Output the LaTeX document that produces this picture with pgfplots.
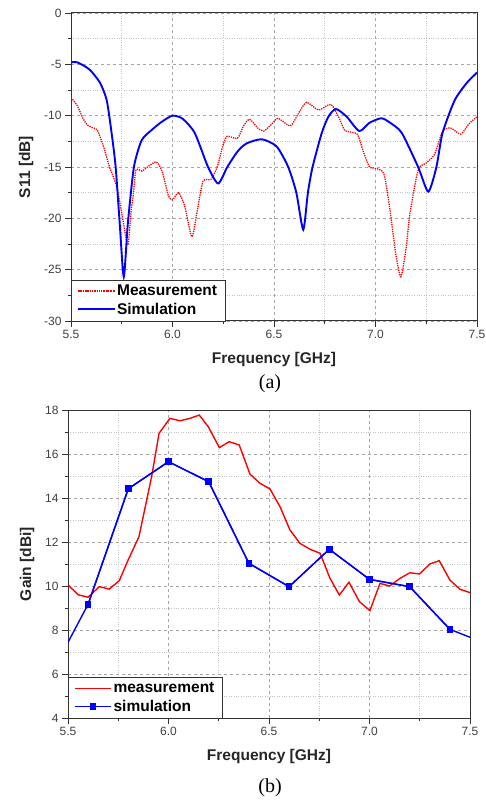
\documentclass[border=0pt]{standalone}
\usepackage{fontspec}
\setmainfont{Liberation Sans}
\newfontfamily\capfont{Liberation Serif}
\usepackage{pgfplots}
\pgfplotsset{compat=1.18}

\pgfplotsset{
  freqax/.style={
    scale only axis,
    xmin=5.5, xmax=7.5, xtick={5.5,6.0,...,7.5},
    minor x tick num=1, minor y tick num=1,
    grid=both,
    major grid style={gray!70, dashed, line width=0.6pt},
    minor grid style={gray!45, dotted, line width=0.7pt},
    axis line style={black!80, line width=1pt},
    tick style={black!80, line width=0.8pt},
    xtick pos=bottom, ytick pos=left, tick align=outside,
    major tick length=6pt, minor tick length=3pt,
    /pgf/number format/assume math mode=true,
    ticklabel style={font=\fontsize{12}{14}\selectfont, text=black!75},
    x tick label style={/pgf/number format/.cd, fixed, fixed zerofill, precision=1, /tikz/.cd},
    xlabel={Frequency [GHz]},
    label style={font=\bfseries\fontsize{15.5}{17}\selectfont, text=black!85},
    xlabel style={yshift=-6pt},
    ylabel style={yshift=4pt},
    legend style={at={(0,0)}, anchor=south west, draw=black!80, fill=white,
      font=\bfseries\fontsize{15.5}{17}\selectfont, inner xsep=6pt, inner ysep=3pt,
      row sep=2pt},
    legend cell align=left,
    legend image code/.code={\draw[mark repeat=2, mark phase=2, #1]
      plot coordinates {(0pt,0pt) (18pt,0pt) (36pt,0pt)};},
  }
}

\begin{document}
\begin{tikzpicture}
\path[use as bounding box] (0,0) rectangle (485pt,-802pt);

% (a) return loss
\begin{axis}[freqax, at={(71pt,-13pt)}, anchor=north west,
  width=406pt, height=308pt,
  ymin=-30, ymax=0, ytick={-30,-25,...,0},
  ylabel={S11 [dB]}]
\addplot[red, densely dotted, line width=1.3pt, smooth, tension=0.4] coordinates {
(5.50,-8.25) (5.53,-9.0) (5.56,-10.3) (5.58,-10.9) (5.61,-11.2) (5.63,-11.4)
(5.66,-13.0) (5.69,-15.0) (5.725,-16.9) (5.75,-19.5) (5.78,-22.6) (5.795,-19.5)
(5.808,-17.5) (5.82,-15.3) (5.85,-15.4) (5.87,-15.1) (5.92,-14.5) (5.95,-15.5)
(5.98,-17.8) (6.00,-18.2) (6.03,-17.5) (6.06,-18.8) (6.095,-21.8) (6.12,-19.5)
(6.15,-16.4) (6.19,-16.2) (6.22,-15.0) (6.25,-12.8) (6.27,-12.0) (6.32,-12.2)
(6.35,-11.0) (6.38,-10.35) (6.42,-11.2) (6.45,-11.5) (6.49,-10.8) (6.52,-10.25)
(6.58,-11.0) (6.62,-9.8) (6.66,-8.7) (6.72,-9.45) (6.78,-8.9) (6.82,-10.2)
(6.85,-11.45) (6.91,-11.8) (6.94,-13.5) (6.97,-15.0) (6.99,-15.1) (7.04,-15.6)
(7.07,-19.0) (7.10,-23.5) (7.125,-25.7) (7.15,-23.0) (7.17,-19.5) (7.21,-15.3)
(7.25,-14.6) (7.29,-13.8) (7.33,-11.55) (7.37,-11.2) (7.42,-11.8) (7.46,-10.8)
(7.50,-10.1)
};
\addlegendentry{Measurement}
\addplot[blue, line width=1.9pt, smooth, tension=0.4] coordinates {
(5.50,-4.8) (5.53,-4.8) (5.56,-5.1) (5.594,-5.55) (5.643,-6.8) (5.676,-8.5)
(5.70,-11.7) (5.72,-15) (5.74,-20.5) (5.76,-25.7) (5.78,-20.5) (5.81,-15)
(5.848,-12.4) (5.897,-11.4) (5.947,-10.6) (6.00,-10.0) (6.05,-10.3) (6.11,-11.7)
(6.175,-15) (6.225,-16.6) (6.27,-15) (6.32,-13.5) (6.365,-12.7) (6.44,-12.3)
(6.513,-13.0) (6.57,-15) (6.61,-17.5) (6.644,-21.1) (6.667,-17.5) (6.69,-15)
(6.735,-11.7) (6.768,-10.1) (6.805,-9.35) (6.858,-10.1) (6.92,-11.5) (6.97,-10.7)
(7.03,-10.25) (7.08,-10.8) (7.13,-11.7) (7.21,-15) (7.26,-17.4) (7.30,-15)
(7.33,-11.7) (7.39,-8.5) (7.45,-6.8) (7.50,-5.8)
};
\addlegendentry{Simulation}
\end{axis}
\node[font=\capfont\fontsize{20}{22}\selectfont] at (270pt,-384pt) {(a)};

% (b) gain
\begin{axis}[freqax, at={(68pt,-410pt)}, anchor=north west,
  width=402pt, height=308pt,
  ymin=4, ymax=18, ytick={4,6,...,18},
  ylabel={Gain [dBi]}]
\addplot[red, line width=1.4pt] coordinates {
(5.50,10.05) (5.551,9.6) (5.60,9.49) (5.656,9.97) (5.705,9.86) (5.755,10.24)
(5.80,11.2) (5.853,12.24) (5.916,14.97) (5.953,16.94) (6.007,17.62) (6.057,17.51)
(6.107,17.62) (6.153,17.77) (6.198,17.24) (6.253,16.29) (6.302,16.56) (6.352,16.41)
(6.405,15.09) (6.455,14.67) (6.505,14.41) (6.555,13.6) (6.604,12.55) (6.654,11.94)
(6.704,11.67) (6.754,11.49) (6.803,10.36) (6.85,9.59) (6.898,10.17) (6.95,9.29)
(7.002,8.88) (7.052,10.12) (7.10,10.0) (7.152,10.35) (7.20,10.6) (7.25,10.55)
(7.30,11.0) (7.347,11.15) (7.40,10.27) (7.45,9.85) (7.50,9.7)
};
\addlegendentry{measurement}
% simulated curve: full line, then the sampled points with markers
\addplot[blue, line width=1.4pt, forget plot] coordinates {
(5.5,7.44) (5.6,9.17) (5.8,14.42) (6.0,15.65) (6.2,14.74) (6.4,11.03)
(6.6,9.97) (6.8,11.67) (7.0,10.3) (7.2,9.97) (7.4,8.03) (7.5,7.67)
};
\addplot[blue, line width=1.4pt, mark=square*, mark size=2.6pt] coordinates {
(5.6,9.17) (5.8,14.42) (6.0,15.65) (6.2,14.74) (6.4,11.03)
(6.6,9.97) (6.8,11.67) (7.0,10.3) (7.2,9.97) (7.4,8.03)
};
\addlegendentry{simulation}
\end{axis}
\node[font=\capfont\fontsize{20}{22}\selectfont] at (270pt,-788pt) {(b)};
\end{tikzpicture}
\end{document}
